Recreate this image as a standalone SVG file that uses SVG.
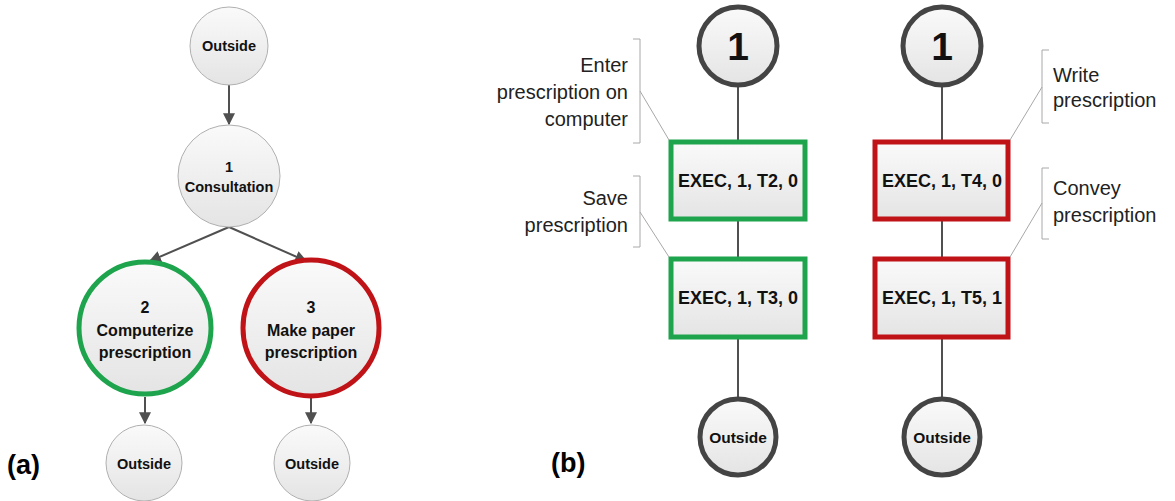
<svg xmlns="http://www.w3.org/2000/svg" width="1175" height="501" viewBox="0 0 1175 501">
<defs>
<linearGradient id="gfill" x1="0" y1="0" x2="0" y2="1">
<stop offset="0" stop-color="#fafafa"/>
<stop offset="1" stop-color="#e4e4e4"/>
</linearGradient>
<marker id="arr" viewBox="0 0 10 10" refX="9" refY="5" markerWidth="6" markerHeight="6" orient="auto" markerUnits="strokeWidth">
<path d="M0,0 L10,5 L0,10 z" fill="#505050"/>
</marker>
<style>
.b{font-family:"Liberation Sans",Arial,sans-serif;font-weight:bold;fill:#111;text-anchor:middle}
.r{font-family:"Liberation Sans",Arial,sans-serif;font-size:20px;fill:#222}
.thin{fill:url(#gfill);stroke:#b0b0b0;stroke-width:1}
.green{fill:url(#gfill);stroke:#1ea44c;stroke-width:5}
.red{fill:url(#gfill);stroke:#c01318;stroke-width:5}
.dark{fill:url(#gfill);stroke:#444;stroke-width:5}
.conn{stroke:#505050;stroke-width:2;fill:none}
.arrow{stroke:#505050;stroke-width:2;fill:none;marker-end:url(#arr)}
.brk{stroke:#a8a8a8;stroke-width:1;fill:none}
.lbl{font-family:"Liberation Sans",Arial,sans-serif;font-weight:bold;font-size:27px;fill:#000}
</style>
</defs>
<rect width="1175" height="501" fill="#fff"/>

<g id="connectors">
<line class="arrow" x1="229" y1="85" x2="229" y2="124"/>
<line class="arrow" x1="229" y1="227" x2="150" y2="261"/>
<line class="arrow" x1="229" y1="227" x2="306" y2="261"/>
<line class="arrow" x1="145" y1="397" x2="145" y2="423"/>
<line class="arrow" x1="311" y1="397" x2="311" y2="423"/>
<line class="conn" x1="738" y1="87" x2="738" y2="140"/>
<line class="conn" x1="738" y1="221" x2="738" y2="257"/>
<line class="conn" x1="738" y1="339" x2="738" y2="397"/>
<line class="conn" x1="942" y1="87" x2="942" y2="140"/>
<line class="conn" x1="942" y1="221" x2="942" y2="257"/>
<line class="conn" x1="942" y1="339" x2="942" y2="397"/>
</g>

<g id="a-outside-top">
<circle class="thin" cx="229" cy="46" r="39"/>
<text class="b" x="229" y="51" font-size="14.5">Outside</text>
</g>
<g id="a-consultation">
<circle class="thin" cx="229" cy="176" r="51"/>
<text class="b" x="229" y="172" font-size="14.5">1</text>
<text class="b" x="229" y="192" font-size="14.5">Consultation</text>
</g>
<g id="a-computerize">
<circle class="green" cx="145" cy="328" r="66"/>
<text class="b" x="145" y="313" font-size="16">2</text>
<text class="b" x="145" y="336" font-size="16">Computerize</text>
<text class="b" x="145" y="358" font-size="16">prescription</text>
</g>
<g id="a-paper">
<circle class="red" cx="311" cy="328" r="68"/>
<text class="b" x="311" y="313" font-size="16">3</text>
<text class="b" x="311" y="336" font-size="16">Make paper</text>
<text class="b" x="311" y="358" font-size="16">prescription</text>
</g>
<g id="a-outside-left">
<circle class="thin" cx="144" cy="463" r="38"/>
<text class="b" x="144" y="469" font-size="14.5">Outside</text>
</g>
<g id="a-outside-right">
<circle class="thin" cx="312" cy="463" r="38"/>
<text class="b" x="312" y="469" font-size="14.5">Outside</text>
</g>
<text class="lbl" x="7" y="474">(a)</text>

<g id="b-start-left">
<circle class="dark" cx="738" cy="46" r="39"/>
<text class="b" x="738" y="60" font-size="39">1</text>
</g>
<g id="b-t2">
<rect class="green" x="671" y="142" width="134" height="77"/>
<text class="b" x="738" y="187" font-size="18">EXEC, 1, T2, 0</text>
</g>
<g id="b-t3">
<rect class="green" x="671" y="259" width="134" height="78"/>
<text class="b" x="738" y="304" font-size="18">EXEC, 1, T3, 0</text>
</g>
<g id="b-outside-left">
<circle class="dark" cx="738" cy="437" r="38"/>
<text class="b" x="738" y="443" font-size="15.5">Outside</text>
</g>

<g id="b-start-right">
<circle class="dark" cx="942" cy="46" r="39"/>
<text class="b" x="942" y="60" font-size="39">1</text>
</g>
<g id="b-t4">
<rect class="red" x="875" y="142" width="133" height="77"/>
<text class="b" x="942" y="187" font-size="18">EXEC, 1, T4, 0</text>
</g>
<g id="b-t5">
<rect class="red" x="875" y="259" width="133" height="78"/>
<text class="b" x="942" y="304" font-size="18">EXEC, 1, T5, 1</text>
</g>
<g id="b-outside-right">
<circle class="dark" cx="942" cy="437" r="38"/>
<text class="b" x="942" y="443" font-size="15.5">Outside</text>
</g>
<text class="lbl" x="551" y="472">(b)</text>

<g id="callout-enter">
<path class="brk" d="M633,39 H640 V143 H633 M640,91 L669,140"/>
<text class="r" x="628" y="72" text-anchor="end">Enter</text>
<text class="r" x="628" y="99" text-anchor="end">prescription on</text>
<text class="r" x="628" y="126" text-anchor="end">computer</text>
</g>
<g id="callout-save">
<path class="brk" d="M633,176 H640 V247 H633 M640,212 L669,257"/>
<text class="r" x="628" y="205" text-anchor="end">Save</text>
<text class="r" x="628" y="232" text-anchor="end">prescription</text>
</g>
<g id="callout-write">
<path class="brk" d="M1049,50 H1042 V123 H1049 M1042,87 L1010,140"/>
<text class="r" x="1053" y="82">Write</text>
<text class="r" x="1053" y="107">prescription</text>
</g>
<g id="callout-convey">
<path class="brk" d="M1049,168 H1042 V239 H1049 M1042,203 L1010,257"/>
<text class="r" x="1053" y="195">Convey</text>
<text class="r" x="1053" y="222">prescription</text>
</g>
</svg>
